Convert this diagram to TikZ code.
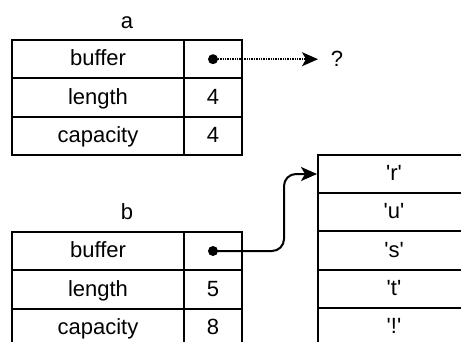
\documentclass[tikz,border=0pt]{standalone}
\usepackage{fontspec}
\setmainfont{Liberation Sans}
\usetikzlibrary{arrows.meta}

\newcommand{\sq}{\textquotesingle}

\tikzset{
  cell/.style={draw, line width=2pt, inner sep=0pt, minimum height=38.4pt,
    text height=15pt, text depth=1.6pt, font=\fontsize{22}{24}\selectfont},
  keycell/.style={cell, minimum width=172pt},
  valcell/.style={cell, minimum width=58pt},
  slot/.style={cell, minimum width=152pt, minimum height=38.2pt},
  title/.style={inner sep=0pt, anchor=base, font=\fontsize{22}{24}\selectfont},
  ptr/.style={circle, fill, inner sep=0pt, minimum size=10pt},
  tip/.style={-{Stealth[length=16pt, width=14pt, inset=4pt]}},
  nullref/.style={tip, line width=1.6pt, dash pattern=on 1.3pt off 1.1pt},
  ref/.style={tip, line width=2pt, rounded corners=12pt},
}

\begin{document}
\begin{tikzpicture}[x=1pt, y=-1pt]
  \useasboundingbox (0,0) rectangle (461,341);
  \clip (0,0) rectangle (461,341);

  % vector a
  \node[title] (alab) at (127,28) {a};
  \node[keycell] (a1) at (98,59.2)   {buffer};
  \node[valcell] (a1v) at (213,59.2) {};
  \node[keycell] (a2) at (98,97.6)   {length};
  \node[valcell] (a2v) at (213,97.6) {4};
  \node[keycell] (a3) at (98,136)    {capacity};
  \node[valcell] (a3v) at (213,136)  {4};

  % vector b
  \node[title] (blab) at (127,219) {b};
  \node[keycell] (b1) at (98,251)   {buffer};
  \node[valcell] (b1v) at (213,251) {};
  \node[keycell] (b2) at (98,289.4)   {length};
  \node[valcell] (b2v) at (213,289.4) {5};
  \node[keycell] (b3) at (98,327.8)    {capacity};
  \node[valcell] (b3v) at (213,327.8)  {8};

  % heap buffer
  \node[slot] (s1) at (394,174)   {\sq r\sq};
  \node[slot] (s2) at (394,212.2) {\sq u\sq};
  \node[slot] (s3) at (394,250.4) {\sq s\sq};
  \node[slot] (s4) at (394,288.6) {\sq t\sq};
  \node[slot] (s5) at (394,326.8) {\sq !\sq};

  % pointers
  \node[ptr] (ap) at (a1v.center) {};
  \node[ptr] (bp) at (b1v.center) {};
  \node[title] (q) at (337,66) {?};
  \coordinate (qin) at (318,59.2);
  \coordinate (bend) at (284,251);

  \draw[nullref] (ap.center) -- (qin);
  \draw[ref] (bp.center) -- (bp.center -| bend) -- (bend |- s1.west) -- (s1.west);
\end{tikzpicture}
\end{document}
